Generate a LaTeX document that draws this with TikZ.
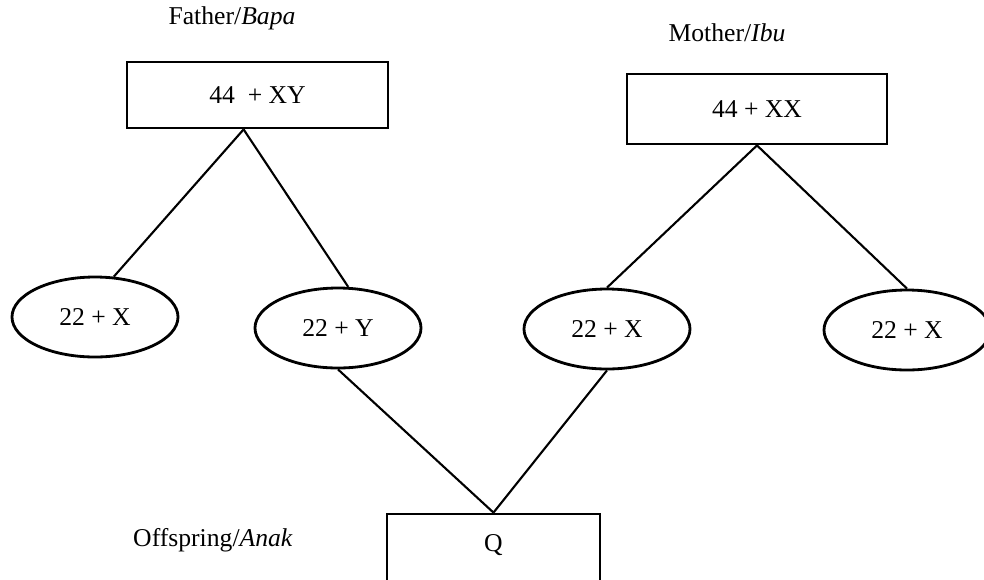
\documentclass[tikz,border=0pt]{standalone}
\usepackage{fontspec}
\setmainfont{Liberation Serif}
\usetikzlibrary{shapes.geometric}

\begin{document}
\begin{tikzpicture}[font=\fontsize{7.3}{9}\selectfont,
    parentbox/.style={draw,line width=0.8pt,rectangle,inner sep=0pt},
    gamete/.style={draw,line width=0.8pt,ellipse,inner sep=0pt,minimum width=1.66cm,minimum height=0.80cm},
    link/.style={line width=0.6pt}]
        \useasboundingbox(0,0)rectangle(9.84,5.79);

        \node(fatherlbl)at(2.32,5.61){Father/\textit{Bapa}};
        \node(motherlbl)at(7.27,5.46){Mother/\textit{Ibu}};
        \node(childlbl)at(2.13,0.39){Offspring/\textit{Anak}};

        \node[parentbox,minimum width=2.61cm,minimum height=0.66cm](father)at(2.575,4.84){44\ \ + XY};
        \node[parentbox,minimum width=2.60cm,minimum height=0.70cm](mother)at(7.57,4.70){44 + XX};

        \node[gamete](fx)at(0.95,2.62){22 + X};
        \node[gamete](fy)at(3.38,2.51){22 + Y};
        \node[gamete](mxa)at(6.07,2.50){22 + X};
        \node[gamete](mxb)at(9.07,2.49){22 + X};

        \node[parentbox,minimum width=2.13cm,minimum height=0.80cm,text height=0.17cm,text depth=0.22cm](child)at(4.935,0.25){Q};

        \draw[link](father.248)--(fx.65);
        \draw[link](father.248)--(fy.76);
        \draw[link](mother.south)--(mxa.north);
        \draw[link](mother.south)--(mxb.north);
        \draw[link](fy.south)--(child.north);
        \draw[link](mxa.south)--(child.north);
    \end{tikzpicture}
\end{document}
